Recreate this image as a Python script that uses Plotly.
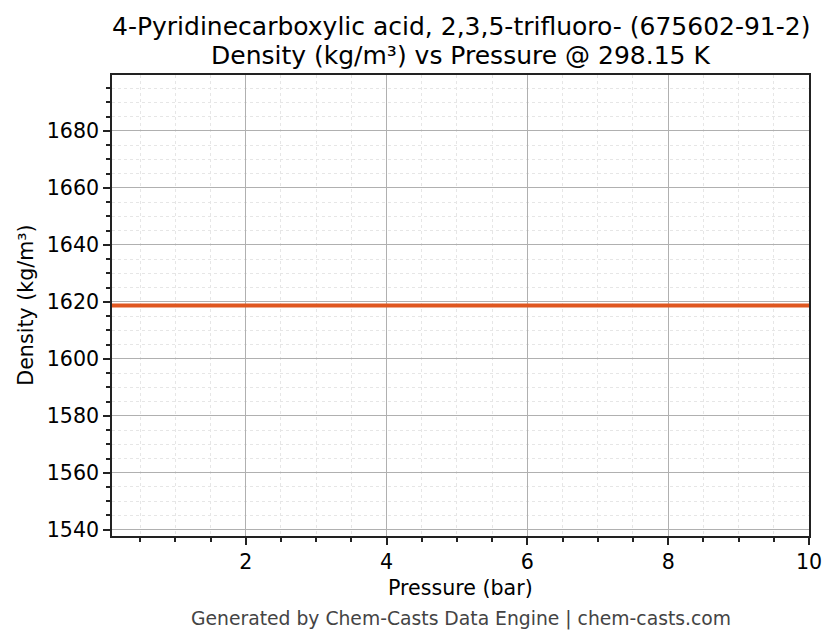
import plotly.graph_objects as go

# density is flat over the pressure range
pressure_bar = [0.1, 1.0, 2.0, 3.0, 4.0, 5.0, 6.0, 7.0, 8.0, 9.0, 10.0]
density_kgm3 = [1618.7, 1618.7, 1618.7, 1618.7, 1618.7, 1618.7, 1618.7, 1618.7, 1618.7, 1618.7, 1618.7]
x_ticks = [2, 4, 6, 8, 10]
y_ticks = [1540, 1560, 1580, 1600, 1620, 1640, 1660, 1680]

font = "DejaVu Sans"
label_size = 20.6

fig = go.Figure()
fig.add_trace(go.Scatter(x=pressure_bar, y=density_kgm3, mode="lines",
                         line=dict(color="#DF5720", width=4), showlegend=False))

axis_common = dict(
    showline=True, linecolor="#222222", linewidth=1.5, mirror=True,
    ticks="outside", ticklen=7, tickwidth=1.5, tickcolor="#222222",
    showgrid=True, gridcolor="#b0b0b0", gridwidth=1,
    zeroline=False, tickfont=dict(family=font, size=label_size, color="black"),
)

fig.update_xaxes(
    range=[0.1, 10], tickvals=x_ticks,
    minor=dict(dtick=0.5, ticks="outside", ticklen=4, tickcolor="#222222",
               showgrid=True, gridcolor="#e6e6e6", griddash="dot", gridwidth=1),
    **axis_common,
)
fig.update_yaxes(
    range=[1537.8, 1699.6], tickvals=y_ticks,
    minor=dict(dtick=5, ticks="outside", ticklen=4, tickcolor="#222222",
               showgrid=True, gridcolor="#e6e6e6", griddash="dot", gridwidth=1),
    **axis_common,
)

# page body adds an 8px margin, so the figure is 8px smaller than the window
fig.update_layout(
    width=828, height=636,
    margin=dict(l=104, r=27, t=67, b=108),
    paper_bgcolor="white", plot_bgcolor="white",
    font=dict(family=font, color="black"),
    annotations=[
        dict(text="4-Pyridinecarboxylic acid, 2,3,5-trifluoro- (675602-91-2)",
             xref="paper", yref="paper", x=0.5, y=1.106, xanchor="center", yanchor="middle",
             showarrow=False, font=dict(family=font, size=25, color="black")),
        dict(text="Density (kg/m³) vs Pressure @ 298.15 K",
             xref="paper", yref="paper", x=0.5, y=1.0433, xanchor="center", yanchor="middle",
             showarrow=False, font=dict(family=font, size=25, color="black")),
        dict(text="Pressure (bar)",
             xref="paper", yref="paper", x=0.5, y=-0.1126, xanchor="center", yanchor="middle",
             showarrow=False, font=dict(family=font, size=label_size, color="black")),
        dict(text="Density (kg/m³)", textangle=-90,
             xref="paper", yref="paper", x=-0.1246, y=0.5, xanchor="center", yanchor="middle",
             showarrow=False, font=dict(family=font, size=label_size, color="black")),
        dict(text="Generated by Chem-Casts Data Engine | chem-casts.com",
             xref="paper", yref="paper", x=0.5, y=-0.1797, xanchor="center", yanchor="middle",
             showarrow=False, font=dict(family=font, size=18.75, color="#444444")),
    ],
)

fig.write_html("out.html")
